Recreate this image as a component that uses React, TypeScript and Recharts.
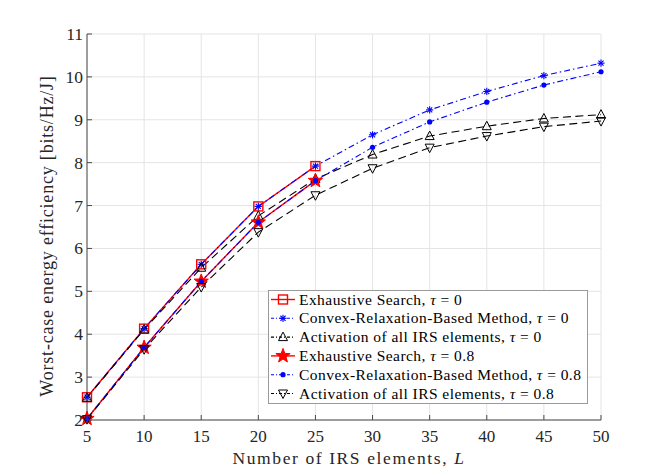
import React from 'react';
import { LineChart, Line, XAxis, YAxis, CartesianGrid, Legend, Label } from 'recharts';

const elements = [5, 10, 15, 20, 25, 30, 35, 40, 45, 50];
const yTicks = [2, 3, 4, 5, 6, 7, 8, 9, 10, 11];

const exhaustiveTau0 = [2.53, 4.13, 5.63, 6.98, 7.92];
const convexTau0 = [2.53, 4.13, 5.63, 6.98, 7.92, 8.65, 9.23, 9.66, 10.03, 10.32];
const activationTau0 = [2.52, 4.11, 5.55, 6.76, 7.62, 8.19, 8.62, 8.85, 9.03, 9.12];
const exhaustiveTau08 = [2.03, 3.69, 5.23, 6.61, 7.58];
const convexTau08 = [2.03, 3.69, 5.23, 6.61, 7.58, 8.36, 8.95, 9.41, 9.81, 10.12];
const activationTau08 = [2.02, 3.65, 5.1, 6.38, 7.24, 7.87, 8.35, 8.62, 8.84, 8.97];

const seriesNames = [
  'Exhaustive Search',
  'Convex-Relaxation-Based Method',
  'Activation of all IRS elements',
  'Exhaustive Search',
  'Convex-Relaxation-Based Method',
  'Activation of all IRS elements',
];
const seriesTaus = ['0', '0', '0', '0.8', '0.8', '0.8'];

const data = elements.map((L, i) => ({
  L,
  exh0: exhaustiveTau0[i],
  conv0: convexTau0[i],
  act0: activationTau0[i],
  exh08: exhaustiveTau08[i],
  conv08: convexTau08[i],
  act08: activationTau08[i],
}));

const FONT = "'Liberation Serif', 'Times New Roman', serif";
const AXIS = '#4a4a4a';
const RED = '#ff0000';
const BLUE = '#0000ff';
const BLACK = '#000000';
const DASH_BLACK = '8 4.5';
const DASH_BLUE = '6 3 1.5 3';

type MK = 'square' | 'asterisk' | 'triUp' | 'star' | 'dot' | 'triDown';

function Marker({ kind, cx, cy }: { kind: MK; cx: number; cy: number }) {
  if (cx == null || cy == null || isNaN(cx) || isNaN(cy)) return null;
  switch (kind) {
    case 'square':
      return <rect x={cx - 4.5} y={cy - 4.5} width={9} height={9} fill="none" stroke={RED} strokeWidth={1.4} />;
    case 'asterisk': {
      const r = 3.6;
      const d = r * 0.707;
      return (
        <g stroke={BLUE} strokeWidth={1.1}>
          <line x1={cx - r} x2={cx + r} y1={cy} y2={cy} />
          <line x1={cx} x2={cx} y1={cy - r} y2={cy + r} />
          <line x1={cx - d} x2={cx + d} y1={cy - d} y2={cy + d} />
          <line x1={cx - d} x2={cx + d} y1={cy + d} y2={cy - d} />
        </g>
      );
    }
    case 'triUp':
      return (
        <polygon
          points={`${cx},${cy - 5} ${cx - 4.5},${cy + 3.5} ${cx + 4.5},${cy + 3.5}`}
          fill="none"
          stroke={BLACK}
          strokeWidth={1}
        />
      );
    case 'triDown':
      return (
        <polygon
          points={`${cx},${cy + 5} ${cx - 4.5},${cy - 3.5} ${cx + 4.5},${cy - 3.5}`}
          fill="none"
          stroke={BLACK}
          strokeWidth={1}
        />
      );
    case 'star': {
      const pts: string[] = [];
      for (let k = 0; k < 10; k++) {
        const rad = k % 2 === 0 ? 7.5 : 3.1;
        const a = -Math.PI / 2 + (k * Math.PI) / 5;
        pts.push(`${cx + rad * Math.cos(a)},${cy + rad * Math.sin(a)}`);
      }
      return <polygon points={pts.join(' ')} fill={RED} stroke={RED} strokeWidth={1} />;
    }
    case 'dot':
      return <circle cx={cx} cy={cy} r={2.6} fill={BLUE} />;
  }
  return null;
}

const dotFor = (kind: MK) => (p: any) => (
  <g key={`${kind}-${p.index}`}>
    <Marker kind={kind} cx={p.cx} cy={p.cy} />
  </g>
);

const seriesStyle: { color: string; dash?: string; marker: MK; width: number }[] = [
  { color: RED, marker: 'square', width: 1.4 },
  { color: BLUE, dash: DASH_BLUE, marker: 'asterisk', width: 1.1 },
  { color: BLACK, dash: DASH_BLACK, marker: 'triUp', width: 1.1 },
  { color: RED, marker: 'star', width: 1.4 },
  { color: BLUE, dash: DASH_BLUE, marker: 'dot', width: 1.1 },
  { color: BLACK, dash: DASH_BLACK, marker: 'triDown', width: 1.1 },
];

const keys = ['exh0', 'conv0', 'act0', 'exh08', 'conv08', 'act08'];

const BottomTick = (p: any) => (
  <g>
    <line x1={p.x} x2={p.x} y1={p.y} y2={p.y - 5} stroke={AXIS} strokeWidth={1} />
    <text x={p.x} y={p.y + 22} textAnchor="middle" fontFamily={FONT} fontSize={17} fill="#262626">
      {p.payload.value}
    </text>
  </g>
);
const TopTick = (p: any) => (
  <line x1={p.x} x2={p.x} y1={p.y} y2={p.y + 5} stroke={AXIS} strokeWidth={1} />
);
const LeftTick = (p: any) => (
  <g>
    <line x1={p.x} x2={p.x + 5} y1={p.y} y2={p.y} stroke={AXIS} strokeWidth={1} />
    <text x={p.x - 4} y={p.y + 6} textAnchor="end" fontFamily={FONT} fontSize={17.5} fill="#262626">
      {p.payload.value}
    </text>
  </g>
);
const RightTick = (p: any) => (
  <line x1={p.x} x2={p.x - 5} y1={p.y} y2={p.y} stroke={AXIS} strokeWidth={1} />
);

const LegendBox = () => (
  <div
    style={{
      width: 320,
      height: 114,
      background: '#ffffff',
      border: '1px solid #9a9a9a',
      boxSizing: 'border-box',
    }}
  >
    <svg width={318} height={112} style={{ display: 'block' }}>
      {seriesStyle.map((s, i) => {
        const y = 8.5 + i * 18.8;
        return (
          <g key={i}>
            <line x1={2} x2={26} y1={y} y2={y} stroke={s.color} strokeDasharray={s.dash ? '3 2 1 2' : undefined} strokeWidth={s.width} />
            <Marker kind={s.marker} cx={14} cy={y} />
            <text x={30} y={y + 5} fontFamily={FONT} fontSize={15.5} letterSpacing={0.45} fill="#000">
              {seriesNames[i]}, <tspan fontStyle="italic">τ</tspan> = {seriesTaus[i]}
            </text>
          </g>
        );
      })}
    </svg>
  </div>
);

export default function App() {
  return (
    <div style={{ position: 'absolute', left: 0, top: 0, width: 664, height: 473, background: '#fff' }}>
      <LineChart width={664} height={473} data={data} margin={{ top: 34, right: 63, left: 0, bottom: 0 }}>
        <CartesianGrid stroke="#e4e4e4" strokeWidth={1} />
        <XAxis
          dataKey="L"
          type="number"
          domain={[5, 50]}
          ticks={elements}
          interval={0}
          height={53}
          tickSize={0}
          tickMargin={0}
          tickLine={false}
          axisLine={{ stroke: AXIS }}
          tick={BottomTick}
        >
          <Label
            content={(props: any) => {
              const vb = props.viewBox;
              return (
                <text x={vb.x + vb.width / 2 + 5} y={vb.y + 44} textAnchor="middle" fontFamily={FONT} fontSize={17.5} letterSpacing={1.6} fill="#262626">
                  Number of IRS elements, <tspan fontStyle="italic">L</tspan>
                </text>
              );
            }}
          />
        </XAxis>
        <XAxis
          xAxisId="top"
          orientation="top"
          dataKey="L"
          type="number"
          domain={[5, 50]}
          ticks={elements}
          interval={0}
          height={0}
          tickSize={0}
          tickMargin={0}
          tickLine={false}
          axisLine={{ stroke: AXIS }}
          tick={TopTick}
        />
        <YAxis
          type="number"
          domain={[2, 11]}
          ticks={yTicks}
          interval={0}
          width={87}
          tickSize={0}
          tickMargin={0}
          tickLine={false}
          axisLine={{ stroke: AXIS }}
          tick={LeftTick}
        >
          <Label
            content={() => (
              <text x={53} y={236} transform="rotate(-90, 53, 236)" textAnchor="middle" fontFamily={FONT} fontSize={18} letterSpacing={0.8} fill="#262626">
                Worst-case energy efficiency [bits/Hz/J]
              </text>
            )}
          />
        </YAxis>
        <YAxis
          yAxisId="right"
          orientation="right"
          type="number"
          domain={[2, 11]}
          ticks={yTicks}
          interval={0}
          width={0}
          tickSize={0}
          tickMargin={0}
          tickLine={false}
          axisLine={{ stroke: AXIS }}
          tick={RightTick}
        />
        {keys.map((k, i) => (
          <Line
            key={k}
            dataKey={k}
            type="linear"
            stroke={seriesStyle[i].color}
            strokeWidth={seriesStyle[i].width}
            strokeDasharray={seriesStyle[i].dash}
            dot={dotFor(seriesStyle[i].marker)}
            activeDot={false}
            isAnimationActive={false}
            legendType="none"
          />
        ))}
        <Legend
          layout="vertical"
          align="center"
          verticalAlign="middle"
          content={() => <LegendBox />}
          wrapperStyle={{ position: 'absolute', left: 268, top: 290, width: 320, height: 114 }}
        />
      </LineChart>
    </div>
  );
}
